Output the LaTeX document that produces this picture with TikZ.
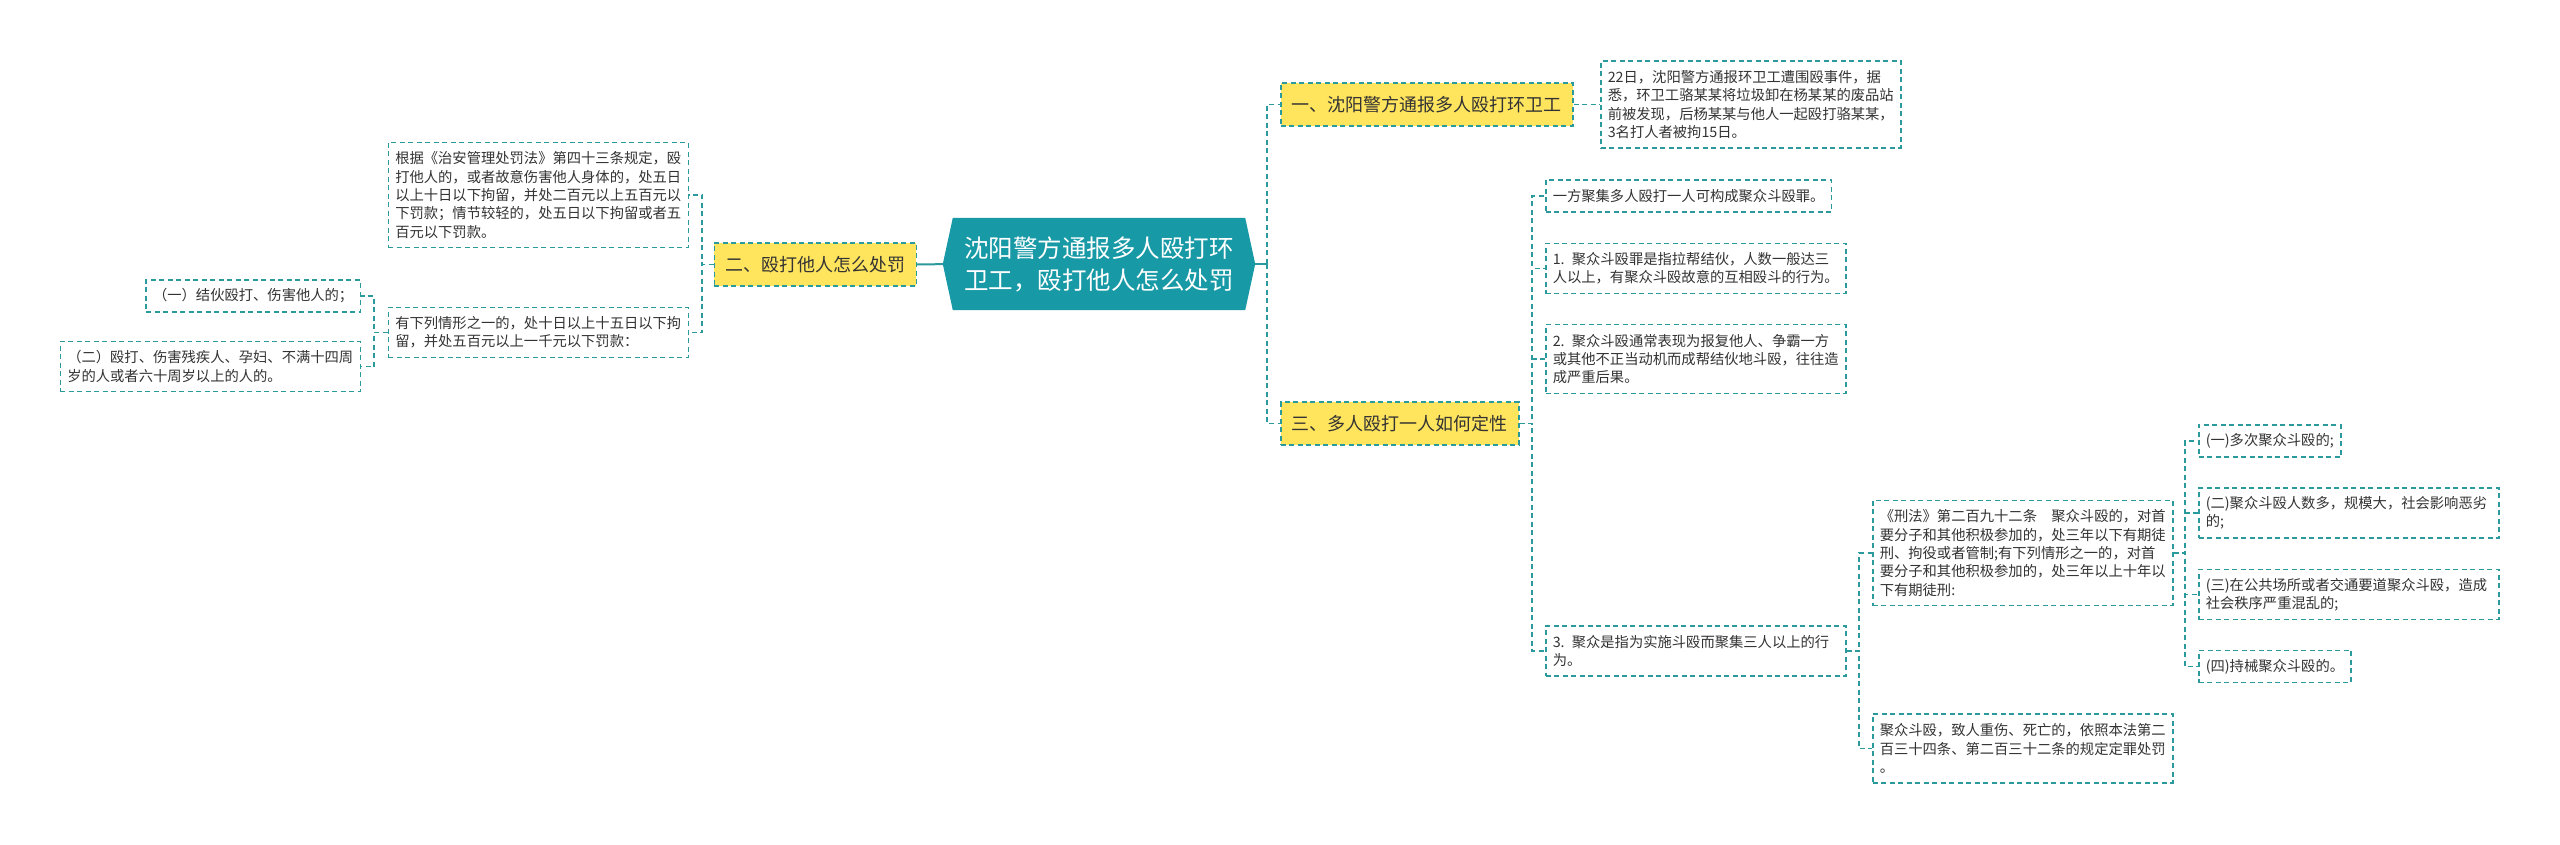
\documentclass[tikz,border=0pt]{standalone}
\usepackage{fontspec}
\setmainfont{Noto Sans CJK SC}
\usetikzlibrary{backgrounds}
\definecolor{tealc}{HTML}{2A9A9C}
\definecolor{mainc}{HTML}{1899A6}
\definecolor{yel}{HTML}{FFE45E}
\definecolor{txt}{HTML}{333333}
\tikzset{
 dc/.style={draw=tealc, line width=1.5pt, dash pattern=on 5pt off 3.5pt},
 sc/.style={draw=tealc, line width=2pt},
 lvl/.style={dc, fill=yel, font=\fontsize{18}{22}\selectfont, text=txt, minimum height=43pt, inner xsep=11pt, inner ysep=0pt},
 lf/.style={dc, fill=white, font=\fontsize{14.3}{18.3}\selectfont, text=txt, align=left, minimum height={18.3pt*#1+13.7pt}, inner xsep=7pt, inner ysep=0pt},
 lw/.style={text width=286pt},
 mainbox/.style={font=\fontsize{24.5}{32}\selectfont, text=white, align=center, minimum width=292pt, minimum height=92pt, inner sep=0pt},
}
\begin{document}
\begin{tikzpicture}[x=1pt,y=-1pt]
\useasboundingbox (0,0) rectangle (2560,845);
% level 0 and 1
\node[mainbox] (main) at (1099,264) {沈阳警方通报多人殴打环\\卫工，殴打他人怎么处罚};
\node[lvl, anchor=west] (n1) at (1280,104.5) {一、沈阳警方通报多人殴打环卫工};
\node[lvl, anchor=west] (n3) at (1280,423.5) {三、多人殴打一人如何定性};
\node[lvl, anchor=east] (n2) at (917,264.5) {二、殴打他人怎么处罚};
% right leaves
\node[lf=4, lw, anchor=west] (r1) at (1600,104.5) {22日，沈阳警方通报环卫工遭围殴事件，据\\悉，环卫工骆某某将垃圾卸在杨某某的废品站\\前被发现，后杨某某与他人一起殴打骆某某，\\3名打人者被拘15日。};
\node[lf=1, anchor=west] (b1) at (1545,196) {一方聚集多人殴打一人可构成聚众斗殴罪。};
\node[lf=2, lw, anchor=west] (b2) at (1545,268.5) {1. 聚众斗殴罪是指拉帮结伙，人数一般达三\\人以上，有聚众斗殴故意的互相殴斗的行为。};
\node[lf=3, lw, anchor=west] (b3) at (1545,359) {2. 聚众斗殴通常表现为报复他人、争霸一方\\或其他不正当动机而成帮结伙地斗殴，往往造\\成严重后果。};
\node[lf=2, lw, anchor=west] (b4) at (1545,651) {3. 聚众是指为实施斗殴而聚集三人以上的行\\为。};
\node[lf=5, lw, anchor=west] (c1) at (1872,553) {《刑法》第二百九十二条　聚众斗殴的，对首\\要分子和其他积极参加的，处三年以下有期徒\\刑、拘役或者管制;有下列情形之一的，对首\\要分子和其他积极参加的，处三年以上十年以\\下有期徒刑:};
\node[lf=3, lw, anchor=west] (c2) at (1872,748.5) {聚众斗殴，致人重伤、死亡的，依照本法第二\\百三十四条、第二百三十二条的规定定罪处罚\\。};
\node[lf=1, anchor=west] (d1) at (2198,441) {(一)多次聚众斗殴的;};
\node[lf=2, lw, anchor=west] (d2) at (2198,513) {(二)聚众斗殴人数多，规模大，社会影响恶劣\\的;};
\node[lf=2, lw, anchor=west] (d3) at (2198,594.5) {(三)在公共场所或者交通要道聚众斗殴，造成\\社会秩序严重混乱的;};
\node[lf=1, anchor=west] (d4) at (2198,666.5) {(四)持械聚众斗殴的。};
% left leaves
\node[lf=5, lw, anchor=east] (A) at (689,195) {根据《治安管理处罚法》第四十三条规定，殴\\打他人的，或者故意伤害他人身体的，处五日\\以上十日以下拘留，并处二百元以上五百元以\\下罚款；情节较轻的，处五日以下拘留或者五\\百元以下罚款。};
\node[lf=2, lw, anchor=east] (B) at (689,332.5) {有下列情形之一的，处十日以上十五日以下拘\\留，并处五百元以上一千元以下罚款：};
\node[lf=1, anchor=east] (B1) at (361,296) {（一）结伙殴打、伤害他人的；};
\node[lf=2, lw, anchor=east] (B2) at (361,366.5) {（二）殴打、伤害残疾人、孕妇、不满十四周\\岁的人或者六十周岁以上的人的。};
% trunk coordinates
\coordinate (tR) at (1267,264);
\coordinate (t3) at (1532,0);
\coordinate (t4) at (1859,0);
\coordinate (t5) at (2185,0);
\coordinate (tL) at (702,0);
\coordinate (tB) at (374,0);
\begin{pgfonlayer}{background}
\fill[white] (0,0) rectangle (2560,845);
\draw[sc] (n2.east) -- (main.west);
\draw[sc] (main.east) -- (tR);
\draw[dc] (tR) |- (n1.west);
\draw[dc] (tR) |- (n3.west);
\draw[dc] (n1.east) -- (r1.west);
\foreach \c in {b1,b2,b3,b4} \draw[dc] (n3.east) -- (n3.east -| t3) |- (\c.west);
\foreach \c in {c1,c2} \draw[dc] (b4.east) -- (b4.east -| t4) |- (\c.west);
\foreach \c in {d1,d2,d3,d4} \draw[dc] (c1.east) -- (c1.east -| t5) |- (\c.west);
\foreach \c in {A,B} \draw[dc] (n2.west) -- (n2.west -| tL) |- (\c.east);
\foreach \c in {B1,B2} \draw[dc] (B.west) -- (B.west -| tB) |- (\c.east);
\fill[mainc] ([xshift=-10pt]main.west) -- (main.north west) -- (main.north east) -- ([xshift=10pt]main.east) -- (main.south east) -- (main.south west) -- cycle;
\end{pgfonlayer}
\end{tikzpicture}
\end{document}
